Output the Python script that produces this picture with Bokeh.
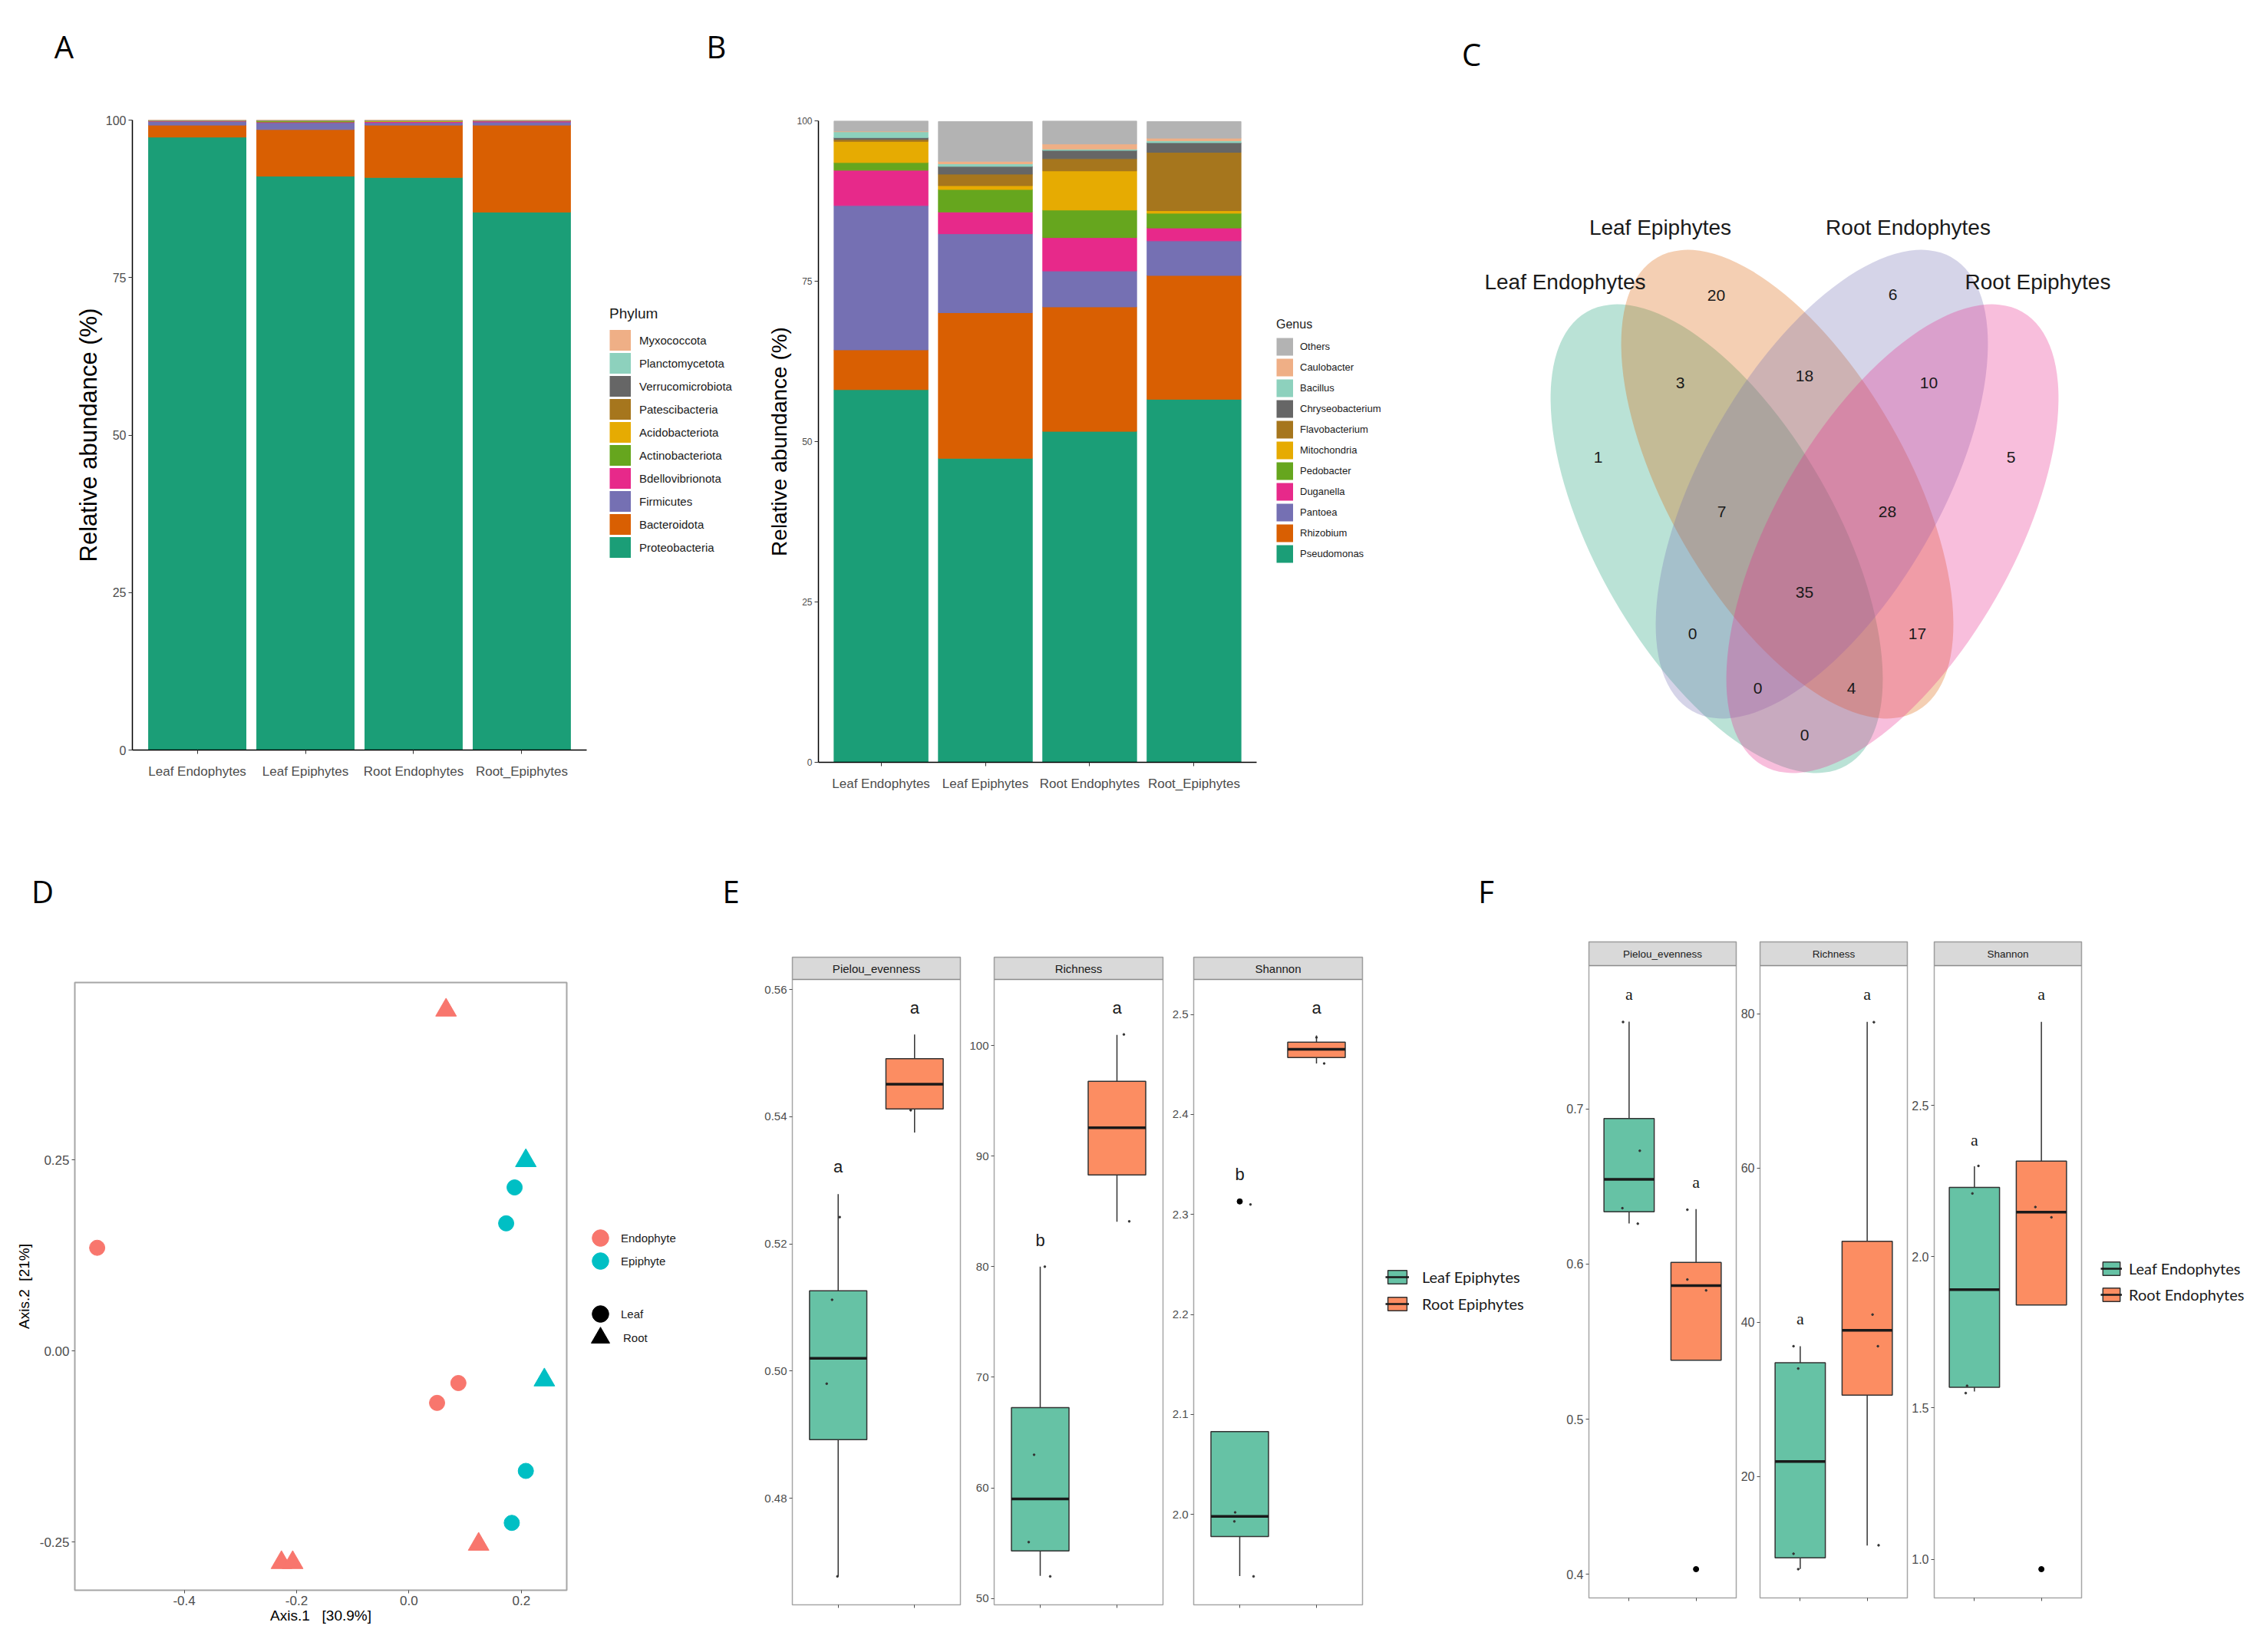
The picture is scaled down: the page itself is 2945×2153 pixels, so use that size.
from bokeh.plotting import figure
from bokeh.layouts import row, column
from bokeh.models import Range1d, FixedTicker, Legend, LegendItem, ColumnDataSource
from bokeh.embed import file_html
from bokeh.resources import INLINE
from bokeh.core.properties import value

SANS = "Liberation Sans"
LETTER_FONT = "Open Sans"
KEY_FONT = "Lato"

# ---------------- Panel A : phylum composition ----------------
groups = ["Leaf Endophytes", "Leaf Epiphytes", "Root Endophytes", "Root_Epiphytes"]
phyla = ["Proteobacteria", "Bacteroidota", "Firmicutes", "Bdellovibrionota", "Actinobacteriota",
         "Acidobacteriota", "Patescibacteria", "Verrucomicrobiota", "Planctomycetota", "Myxococcota"]
phylum_colors = ["#1B9E77", "#D95F02", "#7570B3", "#E7298A", "#66A61E",
                 "#E6AB02", "#A6761D", "#666666", "#8DD1BD", "#EFAF86"]
proteobacteria = [97.3, 91.1, 90.9, 85.4]
bacteroidota = [1.9, 7.4, 8.3, 13.8]
firmicutes = [0.6, 1.1, 0.4, 0.5]
bdellovibrionota = [0.05, 0.1, 0.15, 0.15]
actinobacteriota = [0.05, 0.15, 0.05, 0.03]
acidobacteriota = [0.02, 0.05, 0.1, 0.03]
patescibacteria = [0.02, 0.03, 0.02, 0.02]
verrucomicrobiota = [0.02, 0.03, 0.03, 0.02]
planctomycetota = [0.02, 0.02, 0.03, 0.02]
myxococcota = [0.02, 0.02, 0.02, 0.03]
phylum_values = [proteobacteria, bacteroidota, firmicutes, bdellovibrionota, actinobacteriota,
                 acidobacteriota, patescibacteria, verrucomicrobiota, planctomycetota, myxococcota]

# ---------------- Panel B : genus composition ----------------
genera = ["Pseudomonas", "Rhizobium", "Pantoea", "Duganella", "Pedobacter", "Mitochondria",
          "Flavobacterium", "Chryseobacterium", "Bacillus", "Caulobacter", "Others"]
genus_colors = ["#1B9E77", "#D95F02", "#7570B3", "#E7298A", "#66A61E", "#E6AB02",
                "#A6761D", "#666666", "#8DD1BD", "#EFAF86", "#B3B3B3"]
pseudomonas = [58.1, 47.4, 51.6, 56.6]
rhizobium = [6.2, 22.7, 19.4, 19.3]
pantoea = [22.5, 12.3, 5.6, 5.4]
duganella = [5.5, 3.4, 5.2, 2.0]
pedobacter = [1.2, 3.5, 4.3, 2.3]
mitochondria = [3.3, 0.6, 6.1, 0.4]
flavobacterium = [0.3, 1.8, 1.9, 9.1]
chryseobacterium = [0.3, 1.2, 1.3, 1.5]
bacillus = [0.9, 0.4, 0.2, 0.3]
caulobacter = [0.1, 0.4, 0.8, 0.4]
others = [1.6, 6.2, 3.6, 2.6]
genus_values = [pseudomonas, rhizobium, pantoea, duganella, pedobacter, mitochondria,
                flavobacterium, chryseobacterium, bacillus, caulobacter, others]
abund_ticks = [0, 25, 50, 75, 100]

# ---------------- Panel C : Venn ----------------
venn_sets = ["Leaf Endophytes", "Leaf Epiphytes", "Root Endophytes", "Root Epiphytes"]
venn_colors = ["#1B9E77", "#D95F02", "#7570B3", "#E7298A"]
venn_cx = [-114.5, -22.5, 22.5, 114.5]
venn_cy = [418.5, 489.5, 489.5, 418.5]
venn_width = [681, 681, 681, 681]
venn_height = [311, 311, 311, 311]
venn_angle = [-60.2, -60.2, 60.2, 60.2]
venn_counts = [1, 20, 6, 5, 3, 18, 10, 7, 28, 35, 0, 17, 0, 4, 0]
venn_count_x = [-269, -115, 115, 269, -162, 0, 162, -108, 108, 0, -146, 147, -61, 61, 0]
venn_count_y = [525, 736, 737, 525, 622, 631, 622, 454, 454, 349, 295, 295, 224, 224, 163]
venn_label_x = [-312, -188, 135, 304]
venn_label_y = [753, 824, 824, 753]

# ---------------- Panel D : PCoA ----------------
pcoa_x = [0.066, -0.227, -0.207, 0.124, -0.555, 0.088, 0.050, 0.208, 0.241, 0.188, 0.173, 0.208, 0.183]
pcoa_y = [0.446, -0.277, -0.277, -0.253, 0.135, -0.042, -0.068, 0.249, -0.038, 0.214, 0.167, -0.157, -0.225]
pcoa_type = ["Endophyte"] * 7 + ["Epiphyte"] * 6
pcoa_site = ["Root", "Root", "Root", "Root", "Leaf", "Leaf", "Leaf",
             "Root", "Root", "Leaf", "Leaf", "Leaf", "Leaf"]
type_names = ["Endophyte", "Epiphyte"]
type_colors = ["#F8766D", "#00BFC4"]
site_names = ["Leaf", "Root"]
site_markers = ["circle", "triangle"]
pcoa_xticks = [-0.4, -0.2, 0.0, 0.2]
pcoa_xtick_labels = ["-0.4", "-0.2", "0.0", "0.2"]
pcoa_yticks = [-0.25, 0.0, 0.25]
pcoa_ytick_labels = ["-0.25", "0.00", "0.25"]

# ---------------- Panels E / F : alpha diversity ----------------
metrics = ["Pielou_evenness", "Richness", "Shannon"]
box_colors = ["#66C2A5", "#FC8D62"]
E_groups = ["Leaf Epiphytes", "Root Epiphytes"]
F_groups = ["Leaf Endophytes", "Root Endophytes"]
# each box: [lower whisker, Q1, median, Q3, upper whisker]
E_pielou_box = [[0.4677, 0.4892, 0.5020, 0.5126, 0.5278], [0.5375, 0.5412, 0.5451, 0.5491, 0.5529]]
E_richness_box = [[52.05, 54.3, 59.0, 67.26, 80.0], [84.06, 88.3, 92.56, 96.76, 100.96]]
E_shannon_box = [[1.9383, 1.9778, 1.998, 2.0829, 2.0829], [2.451, 2.457, 2.4651, 2.4722, 2.479]]
E_pielou_pts = [[0.5242, 0.5112, 0.4980, 0.4677], [0.5410]]
E_pielou_dx = [[0.02, -0.08, -0.15, -0.01], [-0.05]]
E_richness_pts = [[80.0, 63.0, 55.1, 52.0], [101.0, 84.1]]
E_richness_dx = [[0.06, -0.08, -0.15, 0.13], [0.09, 0.16]]
E_shannon_pts = [[2.310, 2.002, 1.993, 1.938], [2.477, 2.451]]
E_shannon_dx = [[0.14, -0.06, -0.07, 0.18], [0.0, 0.10]]
E_outliers = [[[], []], [[], []], [[2.313], []]]
E_letters = [["a", "a"], ["b", "a"], ["b", "a"]]
E_letter_y = [[0.5321, 0.5571], [82.4, 103.4], [2.34, 2.5066]]
E_ticks = [[0.48, 0.50, 0.52, 0.54, 0.56], [50, 60, 70, 80, 90, 100], [2.0, 2.1, 2.2, 2.3, 2.4, 2.5]]
E_tick_labels = [["0.48", "0.50", "0.52", "0.54", "0.56"], ["50", "60", "70", "80", "90", "100"],
                 ["2.0", "2.1", "2.2", "2.3", "2.4", "2.5"]]

F_pielou_box = [[0.6262, 0.6337, 0.6546, 0.6938, 0.7562], [0.538, 0.538, 0.5861, 0.6011, 0.6354]]
F_richness_box = [[8.04, 9.48, 21.96, 34.76, 36.9], [11.06, 30.56, 38.96, 50.5, 78.95]]
F_shannon_box = [[1.554, 1.568, 1.891, 2.229, 2.299], [1.84, 1.84, 2.147, 2.316, 2.776]]
F_pielou_pts = [[0.756, 0.673, 0.636, 0.626], [0.635, 0.590, 0.583]]
F_pielou_dx = [[-0.09, 0.16, -0.10, 0.13], [-0.13, -0.13, 0.15]]
F_richness_pts = [[36.9, 34.0, 10.0, 8.0], [78.9, 41.0, 36.9, 11.1]]
F_richness_dx = [[-0.10, -0.03, -0.10, -0.03], [0.10, 0.08, 0.16, 0.17]]
F_shannon_pts = [[2.30, 2.209, 1.573, 1.549], [2.164, 2.130]]
F_shannon_dx = [[0.06, -0.03, -0.11, -0.13], [-0.09, 0.15]]
F_outliers = [[[], [0.4033]], [[], []], [[], [0.967]]]
F_letters = [["a", "a"], ["a", "a"], ["a", "a"]]
F_letter_y = [[0.7738, 0.653], [40.5, 82.5], [2.386, 2.867]]
F_ticks = [[0.4, 0.5, 0.6, 0.7], [20, 40, 60, 80], [1.0, 1.5, 2.0, 2.5]]
F_tick_labels = [["0.4", "0.5", "0.6", "0.7"], ["20", "40", "60", "80"], ["1.0", "1.5", "2.0", "2.5"]]

# panel letters (page positions)
top_letters = ["A", "B", "C"]
top_letter_x = [83, 933, 1917]
top_letter_y = [60, 60, 70]
bottom_letters = ["D", "E", "F"]
bottom_letter_x = [55, 952, 1936]
bottom_letter_y = [1161, 1161, 1161]


def base_fig(width, height, xr, yr, ml, mr, mt, mb, axes=True):
    kw = {}
    if not axes:
        kw = dict(x_axis_type=None, y_axis_type=None)
    p = figure(width=width, height=height, x_range=xr, y_range=yr, output_backend="svg",
               toolbar_location=None, tools="", min_border_left=ml, min_border_right=mr,
               min_border_top=mt, min_border_bottom=mb, **kw)
    p.frame_align = False
    if axes:
        p.xgrid.visible = False
        p.ygrid.visible = False
        p.axis.minor_tick_line_color = None
        p.axis.major_label_text_font = SANS
    p.outline_line_color = None
    p.background_fill_color = "white"
    p.border_fill_color = "white"
    return p


def blank_fig(width, height):
    return base_fig(width, height, Range1d(0, width), Range1d(0, height), 0, 0, 0, 0, axes=False)


def letters_fig(height, top, letters, lx, ly):
    p = blank_fig(2929, height)
    p.text(x=[x - 8 for x in lx], y=[height - (y - top) for y in ly], text=letters,
           text_font=value(LETTER_FONT), text_font_size="40px", text_color="black",
           text_align="center", text_baseline="middle")
    return p


def legend_kw(**kw):
    base = dict(padding=0, margin=0, border_line_color=None, background_fill_alpha=0,
                label_text_color="#1A1A1A")
    base.update(kw)
    return base


HIDE = dict(x=[-100.0, -90.0], y=[-100.0, -100.0])  # key-only anchors, outside every visible range


def stacked_panel(width, names, colors, values, ml, mr, mt, mb, tick_size, ylab_size, ylab_standoff):
    xs = list(range(1, len(groups) + 1))
    p = base_fig(width, 1010, Range1d(0.4, len(groups) + 0.6), Range1d(0, 100), ml, mr, mt, mb)
    data = {"x": xs}
    for n, v in zip(names, values):
        data[n] = v
    p.vbar_stack(names, x="x", width=0.9, color=colors, source=ColumnDataSource(data))
    p.xaxis.ticker = FixedTicker(ticks=xs)
    p.xaxis.major_label_overrides = {x: g for x, g in zip(xs, groups)}
    p.yaxis.ticker = FixedTicker(ticks=abund_ticks)
    p.axis.axis_line_color = "black"
    p.axis.axis_line_width = 1.5
    p.axis.major_tick_line_color = "#333333"
    p.axis.major_tick_out = 5
    p.axis.major_tick_in = 0
    p.yaxis.major_label_text_font_size = tick_size
    p.yaxis.major_label_standoff = 3
    p.xaxis.major_label_text_font_size = "17px"
    p.xaxis.major_label_standoff = 13
    p.axis.major_label_text_color = "#4D4D4D"
    p.yaxis.axis_label = "Relative abundance (%)"
    p.yaxis.axis_label_text_font = SANS
    p.yaxis.axis_label_text_font_size = ylab_size
    p.yaxis.axis_label_text_font_style = "normal"
    p.yaxis.axis_label_text_color = "black"
    p.yaxis.axis_label_standoff = ylab_standoff
    return p


def swatch_legend(width, names, colors, title, loc, key_w, key_h, pitch, standoff,
                  label_size, title_size, title_standoff):
    p = blank_fig(width, 1010)
    rs = [p.line(x=HIDE["x"], y=HIDE["y"], line_width=key_h, line_color=c, line_cap="butt")
          for c in colors]
    items = [LegendItem(label=names[i], renderers=[rs[i]]) for i in reversed(range(len(names)))]
    p.add_layout(Legend(**legend_kw(items=items, location=loc, title=title, glyph_width=key_w,
                                    glyph_height=pitch, spacing=0, label_standoff=standoff,
                                    label_text_font=SANS, label_text_font_size=label_size,
                                    title_text_font=SANS, title_text_font_size=title_size,
                                    title_text_font_style="normal", title_text_color="#1A1A1A",
                                    title_standoff=title_standoff, label_height=16)))
    return p


# ---- top row
pTopLetters = letters_fig(102, 8, top_letters, top_letter_x, top_letter_y)
pA = stacked_panel(772, phyla, phylum_colors, phylum_values, 164, 16, 46, 143, "16px", "31px", 2)
pAleg = swatch_legend(215, phyla, phylum_colors, "Phylum", (14, 392), 28, 27, 30, 11, "15px", "19px", 8)
pB = stacked_panel(645, genera, genus_colors, genus_values, 71, 3, 47, 127, "12px", "28px", 4)
pBleg = swatch_legend(210, genera, genus_colors, "Genus", (23, 385), 22, 23, 27, 9, "13px", "16px", 6)

# ---- C  Venn
pC = base_fig(1087, 1010, Range1d(-501, 586), Range1d(0, 1010), 0, 0, 0, 0, axes=False)
pC.ellipse(x=venn_cx, y=venn_cy, width=venn_width, height=venn_height, angle=venn_angle,
           angle_units="deg", fill_color=venn_colors, fill_alpha=0.3, line_color=None)
pC.text(x=venn_count_x, y=venn_count_y, text=[str(c) for c in venn_counts],
        text_font=value(SANS), text_font_size="21px", text_color="#1A1A1A",
        text_align="center", text_baseline="middle")
pC.text(x=venn_label_x, y=venn_label_y, text=venn_sets, text_font=value(SANS),
        text_font_size="28px", text_color="#1A1A1A", text_align="center", text_baseline="middle")

# ---- D  PCoA
xlo, xhi = min(pcoa_x), max(pcoa_x)
ylo, yhi = min(pcoa_y), max(pcoa_y)
xp, yp = 0.05 * (xhi - xlo), 0.05 * (yhi - ylo)
pD = base_fig(745, 945, Range1d(xlo - xp, xhi + xp), Range1d(ylo - yp, yhi + yp), 89, 15, 80, 73)
pD.outline_line_color = "#A6A6A6"
pD.outline_line_width = 2
srcD = ColumnDataSource(dict(
    x=pcoa_x, y=pcoa_y,
    color=[type_colors[type_names.index(t)] for t in pcoa_type],
    marker=[site_markers[site_names.index(s)] for s in pcoa_site],
    size=[20 if s == "Leaf" else 27 for s in pcoa_site]))
pD.scatter(x="x", y="y", marker="marker", size="size", fill_color="color", line_color="color",
           source=srcD)
pD.xaxis.ticker = FixedTicker(ticks=pcoa_xticks)
pD.xaxis.major_label_overrides = {t: l for t, l in zip(pcoa_xticks, pcoa_xtick_labels)}
pD.yaxis.ticker = FixedTicker(ticks=pcoa_yticks)
pD.yaxis.major_label_overrides = {t: l for t, l in zip(pcoa_yticks, pcoa_ytick_labels)}
pD.axis.axis_line_color = None
pD.axis.major_tick_line_color = "#4D4D4D"
pD.axis.major_tick_out = 4
pD.axis.major_tick_in = 0
pD.axis.major_label_text_font_size = "17px"
pD.axis.major_label_text_color = "#4D4D4D"
pD.axis.major_label_standoff = 3
pD.xaxis.axis_label = "Axis.1\u00a0\u00a0\u00a0[30.9%]"
pD.yaxis.axis_label = "Axis.2\u00a0\u00a0[21%]"
pD.axis.axis_label_text_font = SANS
pD.axis.axis_label_text_font_size = "19px"
pD.axis.axis_label_text_font_style = "normal"
pD.axis.axis_label_text_color = "black"
pD.xaxis.axis_label_standoff = 0
pD.yaxis.axis_label_standoff = 7

# D legend: one single-entry Legend per key so each key can sit at its own place
pDleg = blank_fig(177, 945)
d_keys = [(type_names[0], "circle", type_colors[0], 54, 1613),
          (type_names[1], "circle", type_colors[1], 54, 1643),
          (site_names[0], site_markers[0], "black", 54, 1712),
          (site_names[1], site_markers[1], "black", 60, 1743)]
for lab, mk, col, gs, cy in d_keys:
    r = pDleg.scatter(x=HIDE["x"], y=HIDE["y"], marker=mk, fill_color=col, line_color=col)
    pDleg.add_layout(Legend(**legend_kw(
        items=[LegendItem(label=lab, renderers=[r])],
        location=(int(782 - 753 - gs / 2), int(2145 - cy - gs / 2)), glyph_width=gs, glyph_height=gs,
        label_standoff=max(0, int(807 - (782 + gs / 2))), label_text_font=SANS,
        label_text_font_size="15px")))


def facet(title, boxes, pts, dxs, outl, letters, letter_y, ticks, tick_labels, width, ml, mr, mt,
          strip_px, panel_px, mb, strip_size, letter_font, letter_size, tick_size):
    vals = [v for b in boxes for v in b] + [v for g in pts for v in g] + \
           [v for g in outl for v in g] + list(letter_y)
    lo, hi = min(vals), max(vals)
    pad = 0.05 * (hi - lo)
    y0, y1 = lo - pad, hi + pad
    strip_h = strip_px * (y1 - y0) / panel_px
    p = base_fig(width, mt + strip_px + panel_px + mb, Range1d(0.4, 2.6), Range1d(y0, y1 + strip_h),
                 ml, mr, mt, mb)
    p.outline_line_color = "#A6A6A6"
    p.outline_line_width = 1.5
    p.quad(left=[0.4], right=[2.6], bottom=[y1], top=[y1 + strip_h], fill_color="#D9D9D9",
           line_color="#8C8C8C", line_width=1.5)
    p.text(x=[1.5], y=[y1 + strip_h / 2], text=[title], text_font=value(SANS),
           text_font_size=strip_size, text_color="#1A1A1A", text_align="center",
           text_baseline="middle")
    xs = [1, 2]
    bw = 0.375
    src = ColumnDataSource(dict(
        x=xs, lw=[b[0] for b in boxes], q1=[b[1] for b in boxes], med=[b[2] for b in boxes],
        q3=[b[3] for b in boxes], uw=[b[4] for b in boxes],
        left=[x - bw for x in xs], right=[x + bw for x in xs], color=box_colors))
    p.segment(x0="x", y0="lw", x1="x", y1="q1", source=src, line_color="#333333", line_width=1.5)
    p.segment(x0="x", y0="q3", x1="x", y1="uw", source=src, line_color="#333333", line_width=1.5)
    p.quad(left="left", right="right", bottom="q1", top="q3", fill_color="color",
           line_color="#333333", line_width=1.5, source=src)
    p.segment(x0="left", y0="med", x1="right", y1="med", source=src, line_color="#1A1A1A",
              line_width=3.5)
    px, py = [], []
    for gi, (g, d) in enumerate(zip(pts, dxs)):
        for v, dx in zip(g, d):
            px.append(xs[gi] + dx)
            py.append(v)
    p.scatter(x=px, y=py, size=2.5, fill_color="#333333", line_color="#333333")
    ox, oy = [], []
    for gi, g in enumerate(outl):
        for v in g:
            ox.append(xs[gi])
            oy.append(v)
    if ox:
        p.scatter(x=ox, y=oy, size=7, fill_color="black", line_color="black")
    p.text(x=xs, y=letter_y, text=letters, text_font=value(letter_font), text_font_size=letter_size,
           text_color="#1A1A1A", text_align="center", text_baseline="middle")
    p.xaxis.ticker = FixedTicker(ticks=xs)
    p.xaxis.major_label_text_color = None
    p.yaxis.ticker = FixedTicker(ticks=ticks)
    p.yaxis.major_label_overrides = {t: l for t, l in zip(ticks, tick_labels)}
    p.axis.axis_line_color = None
    p.axis.major_tick_line_color = "#4D4D4D"
    p.axis.major_tick_out = 4
    p.axis.major_tick_in = 0
    p.yaxis.major_label_text_font_size = tick_size
    p.yaxis.major_label_text_color = "#4D4D4D"
    p.yaxis.major_label_standoff = 3
    return p


def box_legend(width, names, loc, glyph_w, glyph_h, spacing, standoff):
    p = blank_fig(width, 945)
    items = []
    for n, c in zip(names, box_colors):
        b = p.quad(left=[-100.0], right=[-90.0], bottom=[-100.0], top=[-90.0], fill_color=c,
                   line_color="#333333", line_width=1.5)
        m = p.segment(x0=[-100.0], y0=[-95.0], x1=[-90.0], y1=[-95.0], line_color="#1A1A1A",
                      line_width=2.5)
        items.append(LegendItem(label=n, renderers=[b, m]))
    p.add_layout(Legend(**legend_kw(items=items, location=loc, glyph_width=glyph_w,
                                    glyph_height=glyph_h, spacing=spacing, label_standoff=standoff,
                                    label_text_font=KEY_FONT, label_text_font_size="20px")))
    return p


E_boxes = [E_pielou_box, E_richness_box, E_shannon_box]
E_pts = [E_pielou_pts, E_richness_pts, E_shannon_pts]
E_dx = [E_pielou_dx, E_richness_dx, E_shannon_dx]
F_boxes = [F_pielou_box, F_richness_box, F_shannon_box]
F_pts = [F_pielou_pts, F_richness_pts, F_shannon_pts]
F_dx = [F_pielou_dx, F_richness_dx, F_shannon_dx]

E_geom = [(323, 102, 2), (264, 42, 2), (260, 38, 2)]
F_geom = [(264, 70, 2), (223, 29, 2), (227, 33, 2)]

E_figs = []
for i in range(3):
    w, ml, mr = E_geom[i]
    E_figs.append(facet(metrics[i], E_boxes[i], E_pts[i], E_dx[i], E_outliers[i], E_letters[i],
                        E_letter_y[i], E_ticks[i], E_tick_labels[i], w, ml, mr, 47, 29, 815, 54,
                        "15px", SANS, "22px", "15px"))
F_figs = []
for i in range(3):
    w, ml, mr = F_geom[i]
    F_figs.append(facet(metrics[i], F_boxes[i], F_pts[i], F_dx[i], F_outliers[i], F_letters[i],
                        F_letter_y[i], F_ticks[i], F_tick_labels[i], w, ml, mr, 27, 31, 824, 63,
                        "13.5px", "Liberation Serif", "22px", "16px"))

pEleg = box_legend(223, E_groups, (28, 434), 31, 22, 11, 17)
pFleg = box_legend(223, F_groups, (23, 446), 28, 22, 10, 9)
pBottomLetters = letters_fig(80, 1120, bottom_letters, bottom_letter_x, bottom_letter_y)

layout = column(pTopLetters,
                row(pA, pAleg, pB, pBleg, pC),
                pBottomLetters,
                row(pD, pDleg, E_figs[0], E_figs[1], E_figs[2], pEleg, F_figs[0], F_figs[1], F_figs[2], pFleg),
                margin=(8, 0, 0, 8))
open("out.html", "w").write(file_html(layout, INLINE))
